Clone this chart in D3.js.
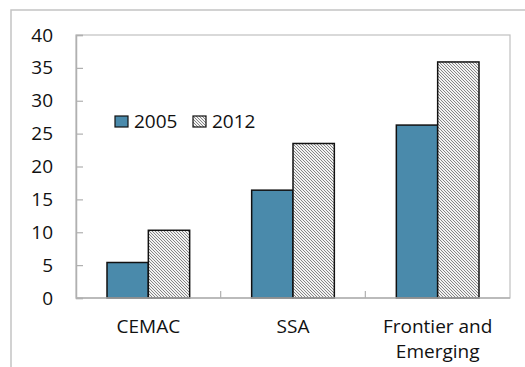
<!DOCTYPE html>
<html>
<head>
<meta charset="utf-8">
<script src="https://cdn.jsdelivr.net/npm/d3@7"></script>
<style>
  body { margin: 0; background: #fff; }
  text { font-family: "Open Sans", sans-serif; fill: #111; }
</style>
</head>
<body>
<div id="chart"></div>
<script>
var categories = [['CEMAC'], ['SSA'], ['Frontier and', 'Emerging']]
var series = ['2005', '2012']
var values2005 = [5.4, 16.4, 26.3]
var values2012 = [10.3, 23.5, 35.9]
var yTicks = [0, 5, 10, 15, 20, 25, 30, 35, 40]

var W = 525, H = 367
var m = {left: 76, right: 15, top: 35, bottom: 69}
var width = W - m.left - m.right, height = H - m.top - m.bottom

var svg = d3.select('#chart').append('svg').attr('width', W).attr('height', H)

// fine diagonal hatch, one dark pixel per row
var defs = svg.append('defs')
var pat = defs.append('pattern').attr('id', 'hatch')
  .attr('patternUnits', 'userSpaceOnUse').attr('width', 3).attr('height', 3)
pat.append('rect').attr('width', 3).attr('height', 3).attr('fill', '#f2f2f2')
pat.selectAll('rect.px').data([0, 1, 2]).enter().append('rect').attr('class', 'px')
  .attr('x', function(d) { return d }).attr('y', function(d) { return d })
  .attr('width', 1).attr('height', 1).attr('fill', '#858585')
pat.attr('shape-rendering', 'crispEdges')

// outer frame (only top and left visible)
svg.append('path').attr('d', 'M11,' + H + ' L11,10 L' + W + ',10')
  .attr('fill', 'none').attr('stroke', '#c4c4c4').attr('stroke-width', 1.5)

var g = svg.append('g').attr('transform', 'translate(' + m.left + ',' + m.top + ')')

var x0 = d3.scaleBand().domain(d3.range(categories.length)).range([0, width]).paddingInner(0).paddingOuter(0)
var y = d3.scaleLinear().domain([0, 40]).range([height, 0])
var barW = x0.bandwidth() / 3.5

// plot area border
g.append('rect').attr('width', width).attr('height', height)
  .attr('fill', 'none').attr('stroke', '#c0c0c0').attr('stroke-width', 1.2)

var yAxis = g.append('g').call(d3.axisLeft(y).tickValues(yTicks).tickSize(-7).tickPadding(23))
yAxis.select('.domain').attr('stroke', '#b0b0b0').attr('stroke-width', 1.5)
yAxis.selectAll('.tick line').attr('stroke', '#b0b0b0').attr('stroke-width', 1.2)
yAxis.selectAll('text').style('font-size', '19px').style('font-family', '"Open Sans", sans-serif').attr('fill', '#111')

var data = []
categories.forEach(function(c, i) {
  data.push({i: i, s: 0, v: values2005[i]})
  data.push({i: i, s: 1, v: values2012[i]})
})

g.selectAll('rect.bar').data(data).enter().append('rect').attr('class', 'bar')
  .attr('x', function(d) { return x0(d.i) + x0.bandwidth() / 2 - barW + d.s * barW })
  .attr('y', function(d) { return y(d.v) })
  .attr('width', barW)
  .attr('height', function(d) { return y(0) - y(d.v) })
  .attr('fill', function(d) { return d.s ? 'url(#hatch)' : '#4a8aab' })
  .attr('stroke', '#111').attr('stroke-width', 1.5)

// x axis line and category ticks
g.append('line').attr('x1', 0).attr('x2', width).attr('y1', height).attr('y2', height)
  .attr('stroke', '#b0b0b0').attr('stroke-width', 1.5)
g.selectAll('line.xt').data(d3.range(1, categories.length)).enter().append('line').attr('class', 'xt')
  .attr('x1', function(d) { return x0(d) }).attr('x2', function(d) { return x0(d) })
  .attr('y1', height).attr('y2', height - 7)
  .attr('stroke', '#b0b0b0').attr('stroke-width', 1.2)

var lab = g.selectAll('text.cat').data(categories).enter().append('text').attr('class', 'cat')
  .attr('text-anchor', 'middle').style('font-size', '19px')
  .attr('transform', function(d, i) { return 'translate(' + (x0(i) + x0.bandwidth() / 2) + ',' + (height + 35) + ')' })
lab.selectAll('tspan').data(function(d) { return d }).enter().append('tspan')
  .attr('x', 0).attr('dy', function(d, j) { return j ? 25 : 0 }).text(function(d) { return d })

// legend
var leg = svg.append('g').attr('transform', 'translate(115,116)')
var li = leg.selectAll('g').data(series).enter().append('g')
  .attr('transform', function(d, i) { return 'translate(' + (i * 78) + ',0)' })
li.append('rect').attr('width', 13).attr('height', 11)
  .attr('fill', function(d, i) { return i ? 'url(#hatch)' : '#4a8aab' })
  .attr('stroke', '#111').attr('stroke-width', 1.2)
li.append('text').attr('x', 19).attr('y', 11.5).style('font-size', '19px').text(function(d) { return d })
</script>
</body>
</html>
